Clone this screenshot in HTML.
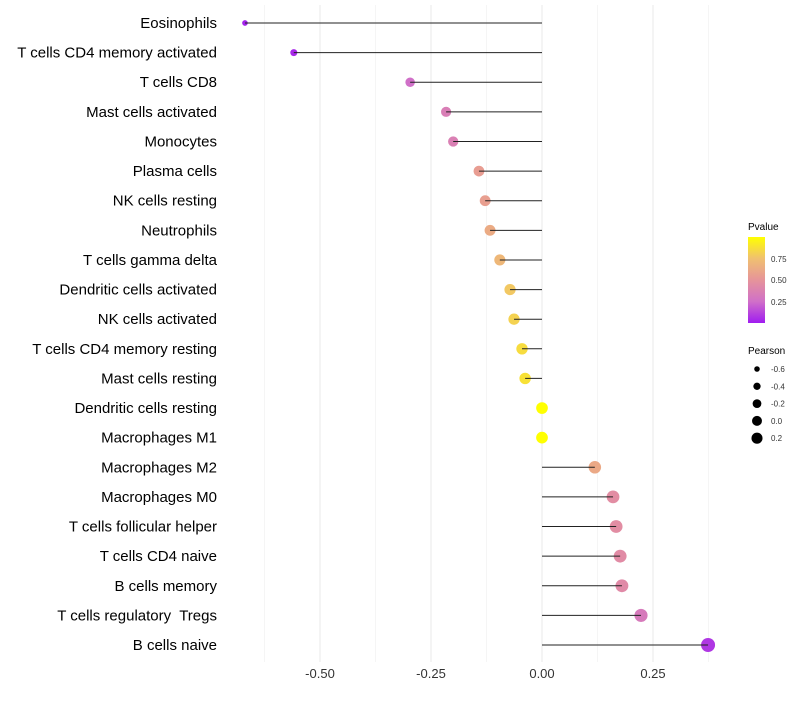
<!DOCTYPE html>
<html><head><meta charset="utf-8"><style>
body{margin:0;background:#fff;font-family:"Liberation Sans",sans-serif;}
</style></head><body>
<svg id="chart" width="800" height="700" xmlns="http://www.w3.org/2000/svg" font-family="Liberation Sans, sans-serif">
<defs><linearGradient id="pg" x1="0" y1="1" x2="0" y2="0">
<stop offset="0" stop-color="#a01cf0"/><stop offset="0.25" stop-color="#d070c8"/><stop offset="0.5" stop-color="#e6949a"/><stop offset="0.75" stop-color="#f0c070"/><stop offset="1" stop-color="#ffff00"/></linearGradient></defs>
<g id="grid"></g><g id="marks"></g><g id="labels"></g>
<g>
<text x="748" y="230" font-size="10">Pvalue</text>
<rect x="748" y="237" width="17" height="86" fill="url(#pg)"/>
<text x="771" y="262" font-size="8" fill="#333">0.75</text>
<text x="771" y="283" font-size="8" fill="#333">0.50</text>
<text x="771" y="305" font-size="8" fill="#333">0.25</text>
</g>
<g id="sizeleg">
<text x="748" y="354" font-size="10">Pearson</text>
</g>
</svg>
<script>
const categories=["Eosinophils","T cells CD4 memory activated","T cells CD8","Mast cells activated","Monocytes","Plasma cells","NK cells resting","Neutrophils","T cells gamma delta","Dendritic cells activated","NK cells activated","T cells CD4 memory resting","Mast cells resting","Dendritic cells resting","Macrophages M1","Macrophages M2","Macrophages M0","T cells follicular helper","T cells CD4 naive","B cells memory","T cells regulatory  Tregs","B cells naive"];
const pearson=[-0.669,-0.559,-0.297,-0.216,-0.200,-0.142,-0.128,-0.117,-0.095,-0.072,-0.063,-0.045,-0.038,0.0,0.0,0.119,0.160,0.167,0.176,0.180,0.223,0.374];
const pvalue=[0.02,0.04,0.25,0.35,0.36,0.55,0.56,0.63,0.70,0.78,0.82,0.86,0.88,1.0,1.0,0.62,0.45,0.45,0.44,0.43,0.32,0.08];
const xTicks=[-0.5,-0.25,0,0.25];
const xTickLabels=["-0.50","-0.25","0.00","0.25"];
const sizeLegend=[-0.6,-0.4,-0.2,0.0,0.2];
const sizeLegendLabels=["-0.6","-0.4","-0.2","0.0","0.2"];
const NS="http://www.w3.org/2000/svg";
const X=v=>542+v*444;
const Y=i=>23+i*(622/21);
const R=v=>Math.sqrt(Math.max(2.5,34.3+39.4*v));
function col(p){const s=[[0,[160,28,240]],[0.25,[208,112,200]],[0.5,[230,148,154]],[0.75,[240,192,112]],[1,[255,255,0]]];
for(let k=1;k<s.length;k++){if(p<=s[k][0]){const t=(p-s[k-1][0])/(s[k][0]-s[k-1][0]);const c=s[k-1][1].map((a,j)=>Math.round(a+(s[k][1][j]-a)*t));return `rgb(${c})`;}}return "rgb(255,255,0)";}
function el(t,a,p){const e=document.createElementNS(NS,t);for(const k in a)e.setAttribute(k,a[k]);p.appendChild(e);return e;}
const grid=document.getElementById('grid'),marks=document.getElementById('marks'),labels=document.getElementById('labels');
for(let v=-0.625;v<=0.4;v+=0.125){const g=el('line',{x1:X(v),x2:X(v),y1:5,y2:662,stroke:'#ebebeb','stroke-width':(Math.abs(v*4-Math.round(v*4))<1e-6)?1.1:0.5},grid);
}
xTicks.forEach((v,i)=>{const t=el('text',{x:X(v),y:678,'font-size':13,'text-anchor':'middle',fill:'#333'},labels);t.textContent=xTickLabels[i];
});
categories.forEach((c,i)=>{const y=Y(i);
const t=el('text',{x:217,y:y+5,'font-size':15,'text-anchor':'end',fill:'#000'},labels);t.textContent=c;
t.setAttribute('xml:space','preserve');t.style.whiteSpace='pre';

const p=el('circle',{cx:X(pearson[i]),cy:y,r:R(pearson[i]),fill:col(pvalue[i])},marks);

const l=el('line',{x1:X(0),x2:X(pearson[i]),y1:y,y2:y,stroke:'#222','stroke-width':1},marks);
});
const sl=document.getElementById('sizeleg');
sizeLegend.forEach((v,i)=>{const y=369+i*17.3;
const c=el('circle',{cx:757,cy:y,r:R(v)*0.85,fill:'#000'},sl);
const t=el('text',{x:771,y:y+3,'font-size':8,fill:'#333'},sl);t.textContent=sizeLegendLabels[i];
});
</script>
</body></html>
